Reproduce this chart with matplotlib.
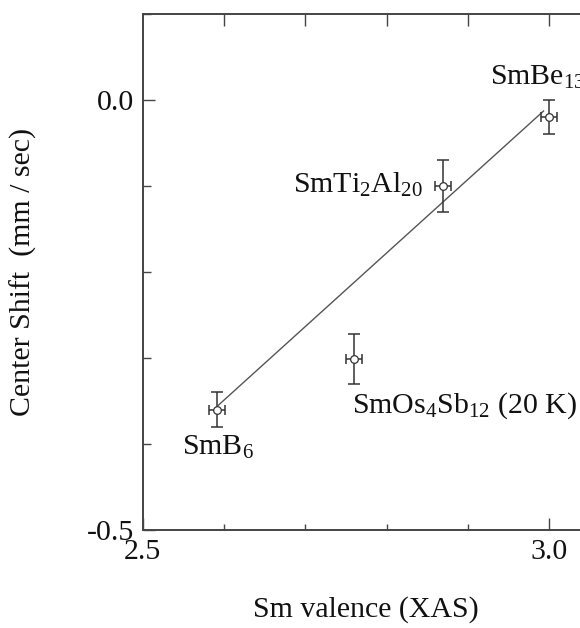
import matplotlib
matplotlib.use("Agg")
import matplotlib.pyplot as plt
from matplotlib.ticker import MultipleLocator

plt.rcParams['font.family'] = ['Liberation Serif', 'DejaVu Serif']
plt.rcParams['mathtext.fontset'] = 'custom'
plt.rcParams['mathtext.rm'] = 'Liberation Serif'
plt.rcParams['mathtext.default'] = 'regular'

# ---- data ----
compounds = ["SmB$_6$", "SmOs$_4$Sb$_{12}$ (20 K)", "SmTi$_2$Al$_{20}$", "SmBe$_{13}$"]
valence = [2.591, 2.760, 2.869, 3.000]
center_shift = [-0.360, -0.301, -0.100, -0.020]
shift_err = [0.020, 0.029, 0.030, 0.020]
valence_err = [0.010, 0.010, 0.010, 0.010]
fit_x = [2.593, 2.993]
fit_y = [-0.355, -0.013]

# label anchor points (data coords) and alignment
label_x = [2.548, 2.757, 2.845, 2.927]
label_y = [-0.413, -0.364, -0.108, 0.017]
label_ha = ["left", "left", "right", "left"]

FS = 21.5
C_AX = "#444444"
C_ERR = "#333333"

fig = plt.figure(figsize=(5.8, 6.28), dpi=100)
ax = fig.add_axes([0.246, 0.156, 0.771, 0.822])

ax.plot(fit_x, fit_y, color="#555555", lw=1.0, zorder=2)

ax.errorbar(valence, center_shift, yerr=shift_err, fmt="none",
            ecolor=C_ERR, elinewidth=1.1, capsize=4.3, capthick=1.1, zorder=3)
ax.errorbar(valence, center_shift, xerr=valence_err, fmt="none",
            ecolor=C_ERR, elinewidth=1.1, capsize=3.6, capthick=1.1, zorder=3)
ax.plot(valence, center_shift, "o", ms=5.5, mfc="white", mec=C_ERR, mew=0.9,
        zorder=4, linestyle="none")

for name, lx, ly, ha in zip(compounds, label_x, label_y, label_ha):
    ax.text(lx, ly, name, fontsize=FS, ha=ha, va="baseline", color="#111111")

ax.set_xlim(2.5, 3.05)
ax.set_ylim(-0.5, 0.1)

ax.set_xticks([2.5, 3.0])
ax.set_xticklabels(["2.5", "3.0"])
ax.xaxis.set_minor_locator(MultipleLocator(0.1))
ax.set_yticks([-0.5, 0.0])
ax.set_yticklabels(["-0.5", "0.0"])
ax.yaxis.set_minor_locator(MultipleLocator(0.1))

ax.tick_params(axis="both", which="both", direction="in", colors=C_AX,
               labelcolor="#111111", labelsize=FS, top=False, right=False)
ax.tick_params(axis="x", which="major", length=8.6, width=1.0, pad=6.5)
ax.tick_params(axis="x", which="minor", length=4.3, width=1.0)
ax.tick_params(axis="y", which="major", length=8.6, width=1.0, pad=6.5)
ax.tick_params(axis="y", which="minor", length=5.8, width=1.0)

sec = ax.secondary_xaxis("top")
sec.set_xticks([2.6, 2.7, 2.8, 2.9, 3.0])
sec.tick_params(direction="in", length=8.6, width=1.0, colors=C_AX,
                labeltop=False)
sec.spines["top"].set_visible(False)

for s in ax.spines.values():
    s.set_color(C_AX)
    s.set_linewidth(1.4)

ax.set_xlabel("Sm valence (XAS)", fontsize=FS, color="#111111", labelpad=22)
ax.set_ylabel("Center Shift  (mm / sec)", fontsize=FS, color="#111111")
ax.yaxis.set_label_coords(-0.236, 0.5)

fig.savefig("out.png", dpi=100)
